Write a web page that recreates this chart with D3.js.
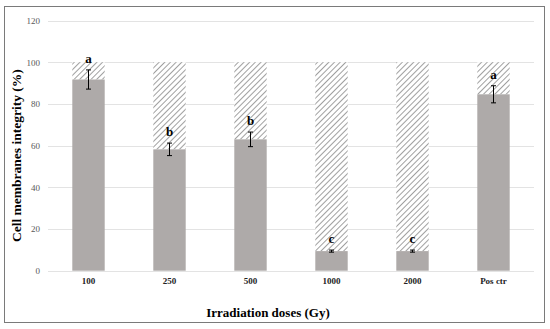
<!DOCTYPE html>
<html>
<head>
<meta charset="utf-8">
<script src="https://cdn.jsdelivr.net/npm/d3@7"></script>
<style>
  body { margin: 0; background: #fff; }
  svg { display: block; font-family: "Liberation Serif", "Times New Roman", serif; }
</style>
</head>
<body>
<div id="chart"></div>
<script>
const doses = ["100", "250", "500", "1000", "2000", "Pos ctr"]
const integrity = [91.7, 58.2, 63.0, 9.4, 9.4, 84.6]
const errors = [4.6, 3.0, 3.5, 0.5, 0.5, 4.1]
const letters = ["a", "b", "b", "c", "c", "a"]
const yTicks = [0, 20, 40, 60, 80, 100, 120]

const width = 550, height = 329
const plotLeft = 48, plotRight = 534, plotTop = 20.5, plotBottom = 270.7

const svg = d3.select("#chart").append("svg")
    .attr("width", width)
    .attr("height", height)

// hatch pattern for the remaining part up to 100 %
const defs = svg.append("defs")
const pat = defs.append("pattern")
    .attr("id", "hatch")
    .attr("patternUnits", "userSpaceOnUse")
    .attr("width", 4)
    .attr("height", 4)
    .attr("patternTransform", "rotate(45)")
pat.append("rect").attr("width", 4).attr("height", 4).attr("fill", "#fff")
pat.append("line")
    .attr("x1", 0).attr("y1", 0).attr("x2", 0).attr("y2", 4)
    .attr("stroke", "#a0a0a0")
    .attr("stroke-width", 2)

// outer frame
svg.append("rect")
    .attr("x", 4.5).attr("y", 6.5)
    .attr("width", 540).attr("height", 316)
    .attr("fill", "#fff")
    .attr("stroke", "#7a7a7a")
    .attr("stroke-width", 1)

const x = d3.scaleBand()
    .domain(doses)
    .range([plotLeft, plotRight])
    .paddingInner(0.6)
    .paddingOuter(0.3)

const y = d3.scaleLinear()
    .domain([0, 120])
    .range([plotBottom, plotTop])

// gridlines
svg.append("g")
    .selectAll("line")
    .data(yTicks)
    .join("line")
    .attr("x1", plotLeft).attr("x2", plotRight)
    .attr("y1", d => Math.round(y(d)) + 0.5)
    .attr("y2", d => Math.round(y(d)) + 0.5)
    .attr("stroke", "#e3e3e3")
    .attr("stroke-width", 1)

// y axis labels
const yAxis = svg.append("g")
    .attr("transform", `translate(${plotLeft},0)`)
    .call(d3.axisLeft(y).tickValues(yTicks).tickSize(0).tickPadding(8))
yAxis.select(".domain").remove()
yAxis.selectAll("text")
    .attr("font-family", "Liberation Serif, serif")
    .attr("font-size", 9)
    .attr("fill", "#595959")

// hatched tops
svg.append("g")
    .selectAll("rect")
    .data(doses)
    .join("rect")
    .attr("x", d => x(d))
    .attr("width", x.bandwidth())
    .attr("y", y(100))
    .attr("height", (d, i) => y(integrity[i]) - y(100))
    .attr("fill", "url(#hatch)")

// gray bars
svg.append("g")
    .selectAll("rect")
    .data(doses)
    .join("rect")
    .attr("x", d => x(d))
    .attr("width", x.bandwidth())
    .attr("y", (d, i) => y(integrity[i]))
    .attr("height", (d, i) => y(0) - y(integrity[i]))
    .attr("fill", "#aeaaa9")

// error bars
const eb = svg.append("g")
    .attr("stroke", "#000")
    .attr("stroke-width", 1)
doses.forEach((d, i) => {
    const cx = x(d) + x.bandwidth() / 2
    const y1 = y(integrity[i] + errors[i]), y2 = y(integrity[i] - errors[i])
    eb.append("line").attr("x1", cx).attr("x2", cx).attr("y1", y1).attr("y2", y2)
    eb.append("line").attr("x1", cx - 2.5).attr("x2", cx + 2.5).attr("y1", y1).attr("y2", y1)
    eb.append("line").attr("x1", cx - 2.5).attr("x2", cx + 2.5).attr("y1", y2).attr("y2", y2)
})

// significance letters
svg.append("g")
    .selectAll("text")
    .data(doses)
    .join("text")
    .attr("x", d => x(d) + x.bandwidth() / 2)
    .attr("y", (d, i) => y(integrity[i] + errors[i]) - 7)
    .attr("text-anchor", "middle")
    .attr("font-size", 13)
    .attr("font-weight", "bold")
    .attr("fill", "#000")
    .text((d, i) => letters[i])

// x axis labels
const xAxis = svg.append("g")
    .attr("transform", `translate(0,${plotBottom})`)
    .call(d3.axisBottom(x).tickSize(0).tickPadding(7))
xAxis.select(".domain").remove()
xAxis.selectAll("text")
    .attr("font-family", "Liberation Serif, serif")
    .attr("font-size", 9)
    .attr("font-weight", "bold")
    .attr("fill", "#222")

// axis titles
svg.append("text")
    .attr("x", 268)
    .attr("y", 317)
    .attr("text-anchor", "middle")
    .attr("font-size", 13)
    .attr("font-weight", "bold")
    .text("Irradiation doses (Gy)")

svg.append("text")
    .attr("transform", `translate(21,${(plotTop + plotBottom) / 2 + 10}) rotate(-90)`)
    .attr("text-anchor", "middle")
    .attr("font-size", 13.5)
    .attr("font-weight", "bold")
    .text("Cell membranes integrity (%)")
</script>
</body>
</html>
